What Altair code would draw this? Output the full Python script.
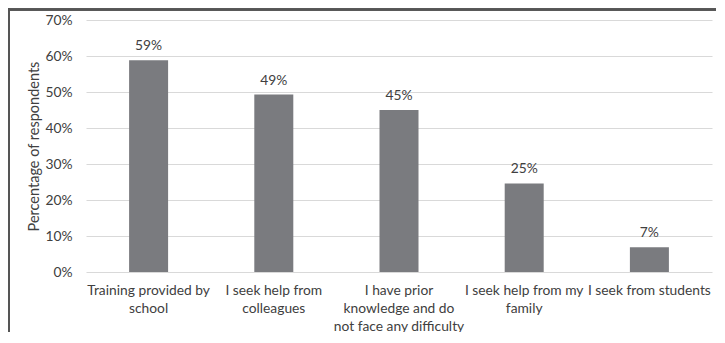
import altair as alt
import pandas as pd

categories = [
    "Training provided by|school",
    "I seek help from|colleagues",
    "I have prior|knowledge and do|not face any difficulty",
    "I seek help from my|family",
    "I seek from students",
]
values = [0.588, 0.493, 0.450, 0.246, 0.069]
labels = ["59%", "49%", "45%", "25%", "7%"]
y_ticks = [0, 0.1, 0.2, 0.3, 0.4, 0.5, 0.6, 0.7]

df = pd.DataFrame({"cat": categories, "val": values, "lab": labels})

FONT = "Lato"
TXT = "#404040"
FS = 13.8

x = alt.X("cat:N", sort=categories, title=None,
          scale=alt.Scale(paddingInner=0.69, paddingOuter=0.345),
          axis=alt.Axis(labelExpr="split(datum.value, '|')", labelAngle=0,
                        labelFont=FONT, labelFontSize=FS, labelColor=TXT,
                        labelPadding=11, labelLineHeight=18, ticks=False,
                        domain=False, labelLimit=200))
y = alt.Y("val:Q", title="Percentage of respondents",
          scale=alt.Scale(domain=[0, 0.7]),
          axis=alt.Axis(format=".0%", values=y_ticks, tickCount=8,
                        labelOverlap=False,
                        labelFont=FONT, labelFontSize=FS, labelColor=TXT,
                        labelPadding=14, ticks=False, domain=False,
                        gridColor="#d9d9d9", gridWidth=1,
                        titleFont=FONT, titleFontSize=14.5, titleColor=TXT,
                        titleFontWeight="normal", titlePadding=3))

bars = alt.Chart(df).mark_bar(color="#7a7b7f", size=39).encode(x=x, y=y)
text = alt.Chart(df).mark_text(dy=-14, font=FONT, fontSize=FS, color=TXT).encode(
    x=x, y=y, text="lab:N")

frame_left = alt.Chart(df).mark_rule(color="#555555", strokeWidth=2).encode(
    x=alt.value(-77), y=alt.value(-12), y2=alt.value(400))
frame_top = alt.Chart(df).mark_rect(color="#555555").encode(
    x=alt.value(-78), x2=alt.value(700),
    y=alt.value(-11.5), y2=alt.value(-9.5))

chart = alt.layer(bars, text, frame_left, frame_top).properties(
    width=626, height=252,
    autosize=alt.AutoSizeParams(type="none"),
    padding={"left": 78, "top": 12, "right": 4, "bottom": 60},
).configure_view(stroke=None)

chart.save("out.html", embed_options={"renderer": "svg", "actions": False})
